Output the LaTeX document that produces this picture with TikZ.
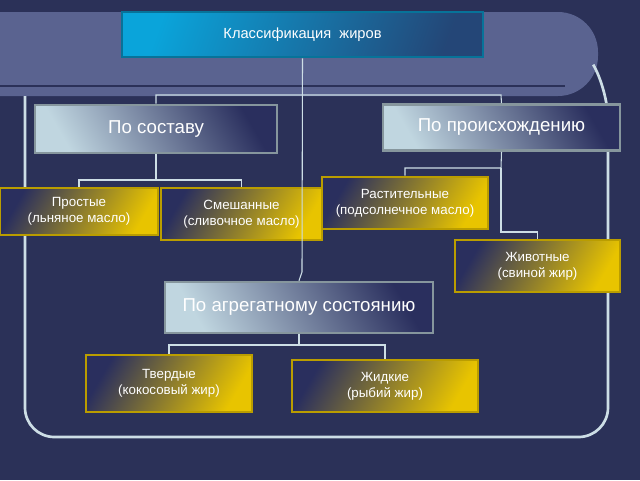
\documentclass[tikz,border=0pt]{standalone}
\usepackage{fontspec}
\setmainfont{Liberation Sans}
\usetikzlibrary{calc}
\definecolor{bgnavy}{HTML}{2B3158}
\definecolor{bandblue}{HTML}{5A6390}
\definecolor{gold}{HTML}{E8C400}
\definecolor{deepblue}{HTML}{2A2F5E}
\definecolor{silver}{HTML}{C0D6E0}
\definecolor{cyanb}{HTML}{0AA4DA}
\tikzstyle{box} = [rectangle, draw, line width=2pt, text=white, align=center, inner sep=0pt]
\tikzstyle{goldbox} = [box, draw=gold!80!black, left color=deepblue, right color=gold, shading angle=60, font=\fontsize{10}{12}\selectfont]
\tikzstyle{silverbox} = [box, draw=silver!70!black, left color=silver, right color=deepblue, shading angle=120, font=\fontsize{14}{16}\selectfont]
\tikzstyle{titlebox} = [box, draw=cyanb!70!black, left color=cyanb, right color=deepblue!80!cyanb, shading angle=70, font=\fontsize{11}{13}\selectfont]
\tikzstyle{link} = [draw=silver!80!white, line width=0.8pt]

\begin{document}
\begin{tikzpicture}[x=0.75pt, y=-0.75pt]
  \fill[bgnavy] (0,0) rectangle (640,480);
  \useasboundingbox (0,0) rectangle (640,480);
  % background band and frame
  \begin{scope}
    \clip (0,0) rectangle (640,480);
    \fill[bandblue, rounded corners=30pt] (-40,12) rectangle (598,96);
  \end{scope}
  \draw[bgnavy, line width=2pt] (0,86) -- (565,86);
  \draw[silver!80!white, line width=2pt, rounded corners=22pt]
    (25,96) -- (25,437) -- (608,437) -- (608,90) -- (594,66);

  \node (title) [titlebox, minimum width=270.75pt, minimum height=33.75pt] at (302.5,34.5) {Классификация\ \ жиров};
  \node (compos) [silverbox, minimum width=181.5pt, minimum height=36pt] at (156,129) {По составу};
  \node (origin) [silverbox, minimum width=177.75pt, minimum height=34.5pt] at (501.5,127.5) {По происхождению};
  \node (simple) [goldbox, minimum width=118.5pt, minimum height=35.25pt] at (79,211.5) {Простые\\(льняное масло)};
  \node (mixed) [goldbox, minimum width=120.75pt, minimum height=39pt] at (241.5,214) {Смешанные\\(сливочное масло)};
  \node (plant) [goldbox, minimum width=124.5pt, minimum height=39pt] at (405,203) {Растительные\\(подсолнечное масло)};
  \node (animal) [goldbox, minimum width=123.75pt, minimum height=39pt] at (537.5,266) {Животные\\(свиной жир)};
  \node (state) [silverbox, minimum width=201pt, minimum height=38.25pt] at (299,307.5) {По агрегатному состоянию};
  \node (solid) [goldbox, minimum width=124.5pt, minimum height=42.75pt] at (169,383.5) {Твердые\\(кокосовый жир)};
  \node (liquid) [goldbox, minimum width=139.5pt, minimum height=39pt] at (385,386) {Жидкие\\(рыбий жир)};

  \draw[link] (title.south) -- (302,272) -- (state.north);
  \draw[link] (compos.north) -- (156,95) -- (501,95) -- (origin.north);
  \draw[link] (compos.south) -- (156,180) -| (simple.north);
  \draw[link] (156,180) -| (mixed.north);
  \draw[link] (origin.south) -- (501,168) -| (plant.north);
  \draw[link] (501,168) -- (501,232) -| (animal.north);
  \draw[link] (state.south) -- (299,345) -| (solid.north);
  \draw[link] (299,345) -| (liquid.north);
\end{tikzpicture}
\end{document}
